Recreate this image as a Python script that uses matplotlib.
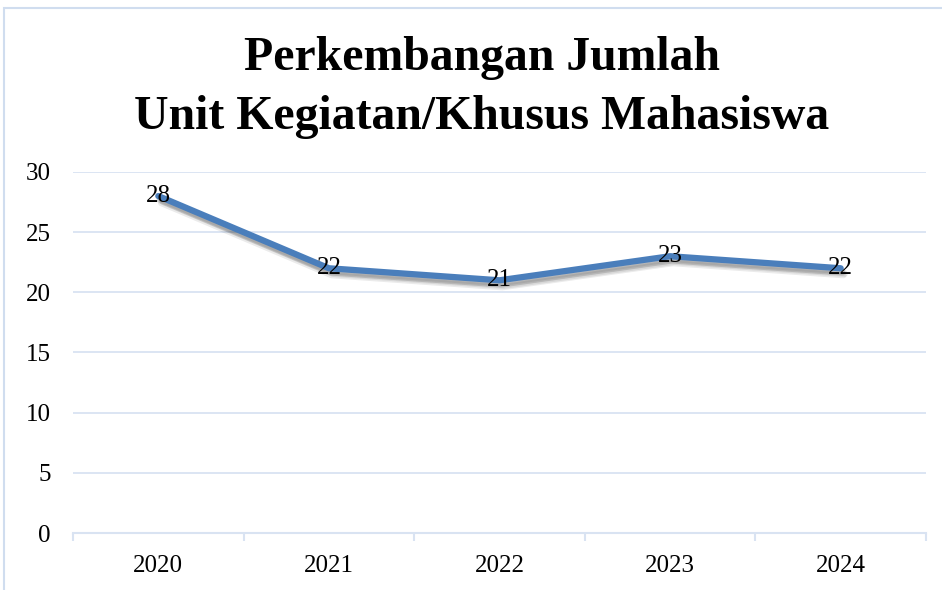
import matplotlib.pyplot as plt
import matplotlib.patheffects as pe
from matplotlib.patches import Rectangle

years = ["2020", "2021", "2022", "2023", "2024"]
jumlah = [28, 22, 21, 23, 22]
y_ticks = [0, 5, 10, 15, 20, 25, 30]

plt.rcParams['font.family'] = ['Liberation Serif', 'DejaVu Serif']

grid_col = "#d9e3f2"
line_col = "#4a7ebb"

fig = plt.figure(figsize=(9.42, 5.9), dpi=100)
ax = fig.add_axes([0.0775, 0.0966, 0.9055, 0.6119])

# soft shadow made of a few faint offset copies
shadow = [pe.SimpleLineShadow(offset=(dx, dy), shadow_color='black', alpha=0.08)
          for dx, dy in [(1, -2), (2, -3), (3, -4), (2, -5), (1, -3)]]

x = list(range(len(years)))
ax.plot(x, jumlah, color=line_col, linewidth=4.5, solid_capstyle='round', zorder=3,
        path_effects=shadow + [pe.Normal()])
for xi, v in zip(x, jumlah):
    ax.text(xi, v, str(v), ha='center', va='center', fontsize=18, color='black', zorder=4)

ax.set_xlim(-0.5, len(years) - 0.5)
ax.set_ylim(0, 30)
ax.set_yticks(y_ticks)
ax.set_xticks(x)
ax.set_xticklabels(years)
ax.set_xticks([i - 0.5 for i in range(len(years) + 1)], minor=True)

ax.grid(axis='y', color=grid_col, linewidth=1.3)
ax.set_axisbelow(True)
for s in ['top', 'right', 'left']:
    ax.spines[s].set_visible(False)
ax.spines['bottom'].set_color(grid_col)
ax.spines['bottom'].set_linewidth(1.5)

ax.tick_params(axis='y', length=0, pad=16, labelsize=18)
ax.tick_params(axis='x', which='major', length=0, pad=16, labelsize=18)
ax.tick_params(axis='x', which='minor', length=6, width=1.5, color=grid_col)

fig.text(0.5117, 0.902, "Perkembangan Jumlah", ha='center', va='center',
         fontsize=34.4, fontweight='bold')
fig.text(0.5117, 0.802, "Unit Kegiatan/Khusus Mahasiswa", ha='center', va='center',
         fontsize=34.4, fontweight='bold')

fig.patches.append(Rectangle((4 / 942, -0.05), 1.2, 1 - 8 / 590 + 0.05, transform=fig.transFigure,
                             fill=False, edgecolor="#d0ddef", linewidth=1.5))

fig.savefig("out.png", dpi=100)
